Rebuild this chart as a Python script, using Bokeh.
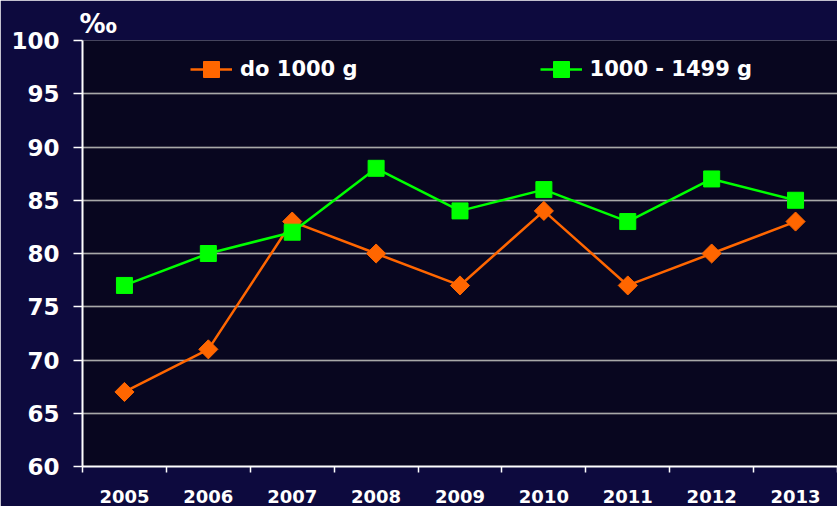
import numpy as np
from bokeh.plotting import figure
from bokeh.models import (FixedTicker, Range1d, Legend, LegendItem, Grid,
                          ColumnDataSource)
from bokeh.embed import file_html
from bokeh.resources import INLINE

years = ["2005", "2006", "2007", "2008", "2009", "2010", "2011", "2012", "2013"]
do_1000 = [67, 71, 83, 80, 77, 84, 77, 80, 83]
g_1000_1499 = [77, 80, 82, 88, 84, 86, 83, 87, 85]
y_ticks = [60, 65, 70, 75, 80, 85, 90, 95, 100]
series_names = ["do 1000 g", "1000 - 1499 g"]
unit_label = "‰"

FONT = "DejaVu Sans"
n = len(years)
xc = [i + 0.5 for i in range(n)]

src = ColumnDataSource(dict(x=xc, a=do_1000, b=g_1000_1499))

p = figure(width=837, height=506, output_backend="svg", toolbar_location=None,
           x_range=Range1d(0, n), y_range=Range1d(60, 100),
           min_border_left=82, min_border_right=0, min_border_top=40, min_border_bottom=40)
p.border_fill_color = "#0d0a3e"
p.background_fill_color = "#08061f"
p.outline_line_color = None

p.title.text = unit_label
p.title.align = "left"
p.title.text_color = "white"
p.title.text_font = FONT
p.title.text_font_style = "bold"
p.title.text_font_size = "26px"
p.title.standoff = 3
p.title.offset = -3

# faint texture grid
tex_x = Grid(dimension=0, ticker=FixedTicker(ticks=list(np.arange(0.05, n, 0.34))),
             grid_line_color="#000000", grid_line_alpha=0.45, grid_line_width=1)
tex_y = Grid(dimension=1, ticker=FixedTicker(ticks=list(np.arange(61.5, 100, 2.73))),
             grid_line_color="#000000", grid_line_alpha=0.45, grid_line_width=1)
p.add_layout(tex_x)
p.add_layout(tex_y)

p.xgrid.visible = False
p.ygrid.ticker = FixedTicker(ticks=y_ticks)
p.ygrid.grid_line_color = "#a8a8a8"
p.ygrid.grid_line_width = 1.5

# x axis
xa = p.xaxis[0]
xa.ticker = FixedTicker(ticks=xc, minor_ticks=list(range(n + 1)))
xa.major_label_overrides = {c: y for c, y in zip(xc, years)}
xa.major_tick_out = 0
xa.major_tick_in = 0
xa.minor_tick_out = 6
xa.minor_tick_in = 0
xa.minor_tick_line_color = "white"
xa.minor_tick_line_width = 1.5
xa.axis_line_color = "white"
xa.axis_line_width = 2
xa.major_label_text_color = "white"
xa.major_label_text_font = FONT
xa.major_label_text_font_style = "bold"
xa.major_label_text_font_size = "18px"
xa.major_label_standoff = 17

# y axis
ya = p.yaxis[0]
ya.ticker = FixedTicker(ticks=y_ticks)
ya.major_tick_out = 9
ya.major_tick_in = 0
ya.minor_tick_out = 0
ya.minor_tick_in = 0
ya.major_tick_line_color = "white"
ya.major_tick_line_width = 1.5
ya.axis_line_color = "white"
ya.axis_line_width = 2
ya.major_label_text_color = "white"
ya.major_label_text_font = FONT
ya.major_label_text_font_style = "bold"
ya.major_label_text_font_size = "23px"
ya.major_label_standoff = 14

# series
la = p.line("x", "a", source=src, line_color="#ff6600", line_width=2.5)
ma = p.scatter("x", "a", source=src, marker="square", angle=np.pi / 4, size=13.5,
               fill_color="#ff6600", line_color="#ff6600")
lb = p.line("x", "b", source=src, line_color="#00ff00", line_width=2.5)
mb = p.scatter("x", "b", source=src, marker="square", size=16,
               fill_color="#00ff00", line_color="#00ff00")

legend = Legend(items=[LegendItem(label=series_names[0], renderers=[la, ma]),
                       LegendItem(label=series_names[1], renderers=[lb, mb])],
                orientation="horizontal", location=(108, 377),
                background_fill_alpha=0, border_line_color=None,
                padding=0, margin=0, spacing=182, label_standoff=8,
                glyph_width=42, glyph_height=40,
                label_text_color="white", label_text_font=FONT,
                label_text_font_style="bold", label_text_font_size="21px")
p.add_layout(legend, "center")

open("out.html", "w").write(file_html(p, INLINE))
